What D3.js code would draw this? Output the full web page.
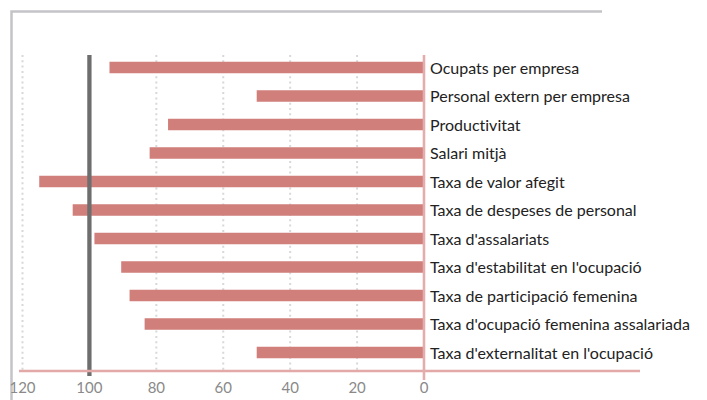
<!DOCTYPE html>
<html>
<head>
<meta charset="utf-8">
<script src="https://cdn.jsdelivr.net/npm/d3@7"></script>
<style>
  body { margin: 0; background: #fff; }
  svg { display: block; font-family: Lato, "Open Sans", sans-serif; font-variant-ligatures: none; }
</style>
</head>
<body>
<svg id="chart"></svg>
<script>
// indicadors (index, referencia = 100)
var categories = [
  "Ocupats per empresa",
  "Personal extern per empresa",
  "Productivitat",
  "Salari mitjà",
  "Taxa de valor afegit",
  "Taxa de despeses de personal",
  "Taxa d'assalariats",
  "Taxa d'estabilitat en l'ocupació",
  "Taxa de participació femenina",
  "Taxa d'ocupació femenina assalariada",
  "Taxa d'externalitat en l'ocupació"
];
var values = [94, 50, 76.5, 82, 115, 105, 98.5, 90.5, 88, 83.5, 50];
var tickValues = [120, 100, 80, 60, 40, 20, 0];
var gridValues = [120, 80, 60, 40, 20];
var reference = 100;

var width = 707, height = 400;

var svg = d3.select("#chart")
    .attr("width", width)
    .attr("height", height);

var x = d3.scaleLinear()
    .domain([120, 0])
    .range([22.5, 424]);

var y = d3.scalePoint()
    .domain(categories)
    .range([67.5, 352.5]);

var barH = 11.5;

// frame
svg.append("path")
    .attr("d", "M11.5,400V11.5H602")
    .attr("fill", "none")
    .attr("stroke", "#c4c4c8")
    .attr("stroke-width", 2.5);

// dotted grid
svg.append("g")
  .selectAll("line")
  .data(gridValues)
  .enter().append("line")
    .attr("x1", function(d) { return x(d); })
    .attr("x2", function(d) { return x(d); })
    .attr("y1", 55)
    .attr("y2", 370)
    .attr("stroke", "#d8d8d8")
    .attr("stroke-width", 2)
    .attr("stroke-dasharray", "2,3.3");

// bars
svg.append("g")
  .selectAll("rect")
  .data(values)
  .enter().append("rect")
    .attr("x", function(d) { return x(d); })
    .attr("y", function(d, i) { return y(categories[i]) - barH / 2; })
    .attr("width", function(d) { return x(0) - x(d); })
    .attr("height", barH)
    .attr("fill", "#d17f7b");

// reference line at 100
svg.append("line")
    .attr("x1", x(reference))
    .attr("x2", x(reference))
    .attr("y1", 55)
    .attr("y2", 376)
    .attr("stroke", "#6e6e6e")
    .attr("stroke-width", 4.3);

// axis line
svg.append("line")
    .attr("x1", 19)
    .attr("x2", 640)
    .attr("y1", 371)
    .attr("y2", 371)
    .attr("stroke", "#e3a9a8")
    .attr("stroke-width", 2.6);

// zero line
svg.append("line")
    .attr("x1", x(0))
    .attr("x2", x(0))
    .attr("y1", 55)
    .attr("y2", 380)
    .attr("stroke", "#e3adad")
    .attr("stroke-width", 2.6);

// tick labels
svg.append("g")
  .selectAll("text")
  .data(tickValues)
  .enter().append("text")
    .attr("x", function(d) { return x(d); })
    .attr("y", 393)
    .attr("text-anchor", "middle")
    .attr("fill", "#8a8a8a")
    .attr("font-size", 15)
    .text(function(d) { return d; });

// category labels
svg.append("g")
  .selectAll("text")
  .data(categories)
  .enter().append("text")
    .attr("x", 430)
    .attr("y", function(d) { return y(d) + 6; })
    .attr("fill", "#222")
    .attr("font-size", 16)
    .text(function(d) { return d; });
</script>
</body>
</html>
